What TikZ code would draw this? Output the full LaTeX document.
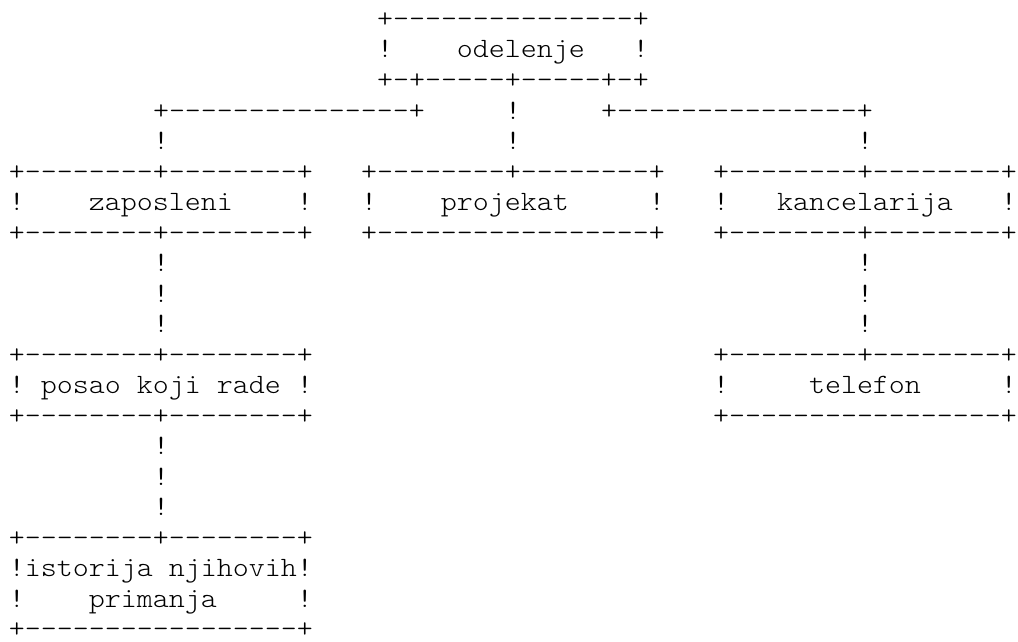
\documentclass[tikz,border=0pt]{standalone}
\usepackage{fontspec}
\setmonofont[FakeStretch=1.0884]{Latin Modern Mono Light}
\frenchspacing
\tikzset{
  asc/.style={anchor=base west, inner sep=0pt, outer sep=0pt,
    font=\ttfamily\fontsize{28}{30}\selectfont, text=black}
}
\newcommand\asc[4]{\node[asc] (#1) at ({(9+16*#2)*1pt},{-(27.5+30.5*#3)*1pt}) {#4};}
\begin{document}
\begin{tikzpicture}
\fill[white] (0,0) rectangle (1018pt,-642pt);
\useasboundingbox (0,0) rectangle (1018pt,-642pt);
% odelenje
\asc{odA}{23}{0}{+---------------+}
\asc{odB}{23}{1}{!~~~~odelenje~~~!}
\asc{odC}{23}{2}{+-+-----+-----+-+}
% branches
\asc{brL}{9}{3}{+---------------+}
\asc{brM}{31}{3}{!}
\asc{brR}{37}{3}{+---------------+}
\asc{vL4}{9}{4}{!}
\asc{vM4}{31}{4}{!}
\asc{vR4}{53}{4}{!}
% second row boxes
\asc{zaA}{0}{5}{+--------+--------+}
\asc{prA}{22}{5}{+--------+--------+}
\asc{kaA}{44}{5}{+--------+--------+}
\asc{zaB}{0}{6}{!~~~~zaposleni~~~~!}
\asc{prB}{22}{6}{!~~~~projekat~~~~~!}
\asc{kaB}{44}{6}{!~~~kancelarija~~~!}
\asc{zaC}{0}{7}{+--------+--------+}
\asc{prC}{22}{7}{+-----------------+}
\asc{kaC}{44}{7}{+--------+--------+}
% links
\asc{vL8}{9}{8}{!}
\asc{vL9}{9}{9}{!}
\asc{vL10}{9}{10}{!}
\asc{vR8}{53}{8}{!}
\asc{vR9}{53}{9}{!}
\asc{vR10}{53}{10}{!}
% third row boxes
\asc{poA}{0}{11}{+--------+--------+}
\asc{teA}{44}{11}{+--------+--------+}
\asc{poB}{0}{12}{!~posao~koji~rade~!}
\asc{teB}{44}{12}{!~~~~~telefon~~~~~!}
\asc{poC}{0}{13}{+--------+--------+}
\asc{teC}{44}{13}{+-----------------+}
% links
\asc{vL14}{9}{14}{!}
\asc{vL15}{9}{15}{!}
\asc{vL16}{9}{16}{!}
% last box
\asc{isA}{0}{17}{+--------+--------+}
\asc{isB}{0}{18}{!istorija~njihovih!}
\asc{isC}{0}{19}{!~~~~primanja~~~~~!}
\asc{isD}{0}{20}{+-----------------+}
\end{tikzpicture}
\end{document}
